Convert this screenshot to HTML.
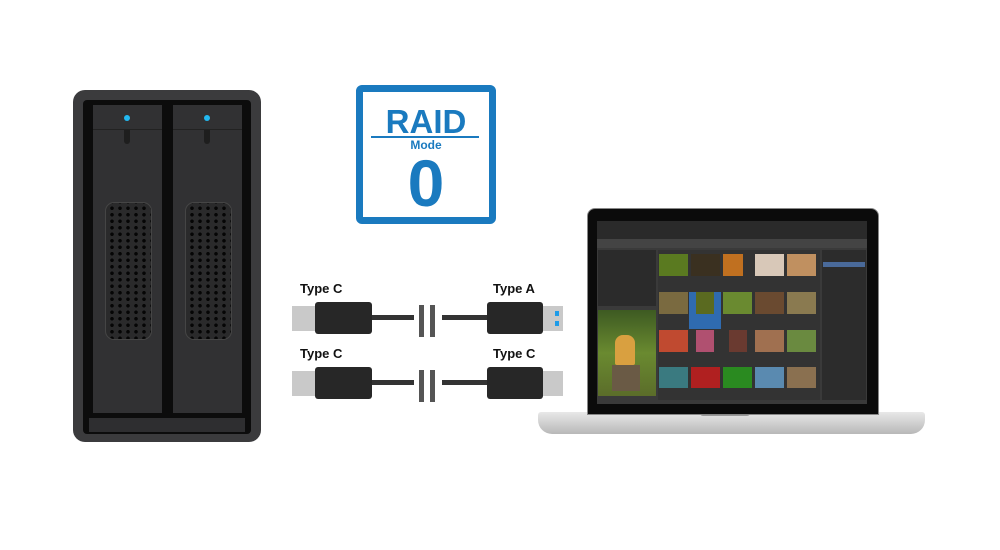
<!DOCTYPE html>
<html><head><meta charset="utf-8"><style>
body{margin:0;width:1000px;height:550px;background:#fff;position:relative;overflow:hidden;font-family:"Liberation Sans",Arial,sans-serif}
.a{position:absolute}
.lbl{position:absolute;font-weight:bold;font-size:13px;color:#111}
</style></head><body>

<!-- enclosure -->
<div class="a" style="left:73px;top:90px;width:188px;height:352px;background:#3b3b3d;border-radius:12px"></div>
<div class="a" style="left:83px;top:100px;width:168px;height:334px;background:#0c0c0c;border-radius:4px"></div>
<div class="a" style="left:89px;top:418px;width:156px;height:14px;background:#2e2e30"></div>
<div class="a" style="left:93px;top:105px;width:69px;height:308px;background:#313133"></div>
<div class="a" style="left:173px;top:105px;width:69px;height:308px;background:#313133"></div>
<div class="a" style="left:93px;top:129px;width:69px;height:1px;background:#222"></div>
<div class="a" style="left:173px;top:129px;width:69px;height:1px;background:#222"></div>
<div class="a" style="left:124px;top:115px;width:6px;height:6px;border-radius:3px;background:#22b8f0"></div>
<div class="a" style="left:204px;top:115px;width:6px;height:6px;border-radius:3px;background:#22b8f0"></div>
<div class="a" style="left:124px;top:130px;width:6px;height:14px;border-radius:0 0 3px 3px;background:#1e1e1e"></div>
<div class="a" style="left:204px;top:130px;width:6px;height:14px;border-radius:0 0 3px 3px;background:#1e1e1e"></div>
<div class="a" style="left:105px;top:202px;width:45px;height:136px;border-radius:9px;background:#2a2a2b;background-image:radial-gradient(circle,#050505 1.6px,transparent 2px);background-size:8px 6.5px;background-position:2px 2px;border:1px solid #454545"></div>
<div class="a" style="left:185px;top:202px;width:45px;height:136px;border-radius:9px;background:#2a2a2b;background-image:radial-gradient(circle,#050505 1.6px,transparent 2px);background-size:8px 6.5px;background-position:2px 2px;border:1px solid #454545"></div>

<!-- RAID -->
<div class="a" style="left:356px;top:85px;width:126px;height:125px;border:7px solid #1a7abf;border-radius:6px;background:#fff"></div>
<div class="a" style="left:356px;top:103px;width:140px;text-align:center;font-weight:bold;font-size:33px;color:#1a7abf">RAID</div>
<div class="a" style="left:371px;top:136px;width:108px;height:2px;background:#1a7abf"></div>
<div class="a" style="left:356px;top:138px;width:140px;text-align:center;font-weight:bold;font-size:12px;color:#1a7abf">Mode</div>
<div class="a" style="left:356px;top:147px;width:140px;text-align:center;font-weight:bold;font-size:66px;line-height:72px;color:#1a7abf">0</div>

<!-- cables -->
<div class="lbl" style="left:300px;top:281px">Type C</div>
<div class="lbl" style="left:493px;top:281px">Type A</div>
<div class="lbl" style="left:300px;top:346px">Type C</div>
<div class="lbl" style="left:493px;top:346px">Type C</div>

<div class="a" style="left:292px;top:306px;width:24px;height:25px;background:#c9c9c9"></div>
<div class="a" style="left:315px;top:302px;width:57px;height:32px;background:#272727;border-radius:3px"></div>
<div class="a" style="left:372px;top:315px;width:42px;height:5px;background:#333"></div>
<div class="a" style="left:419px;top:305px;width:5px;height:32px;background:#555"></div>
<div class="a" style="left:430px;top:305px;width:5px;height:32px;background:#555"></div>
<div class="a" style="left:442px;top:315px;width:46px;height:5px;background:#333"></div>
<div class="a" style="left:487px;top:302px;width:56px;height:32px;background:#272727;border-radius:3px"></div>
<div class="a" style="left:543px;top:306px;width:20px;height:25px;background:#c9c9c9"></div>
<div class="a" style="left:555px;top:311px;width:4px;height:5px;background:#1e9be8"></div>
<div class="a" style="left:555px;top:321px;width:4px;height:5px;background:#1e9be8"></div>

<div class="a" style="left:292px;top:371px;width:24px;height:25px;background:#c9c9c9"></div>
<div class="a" style="left:315px;top:367px;width:57px;height:32px;background:#272727;border-radius:3px"></div>
<div class="a" style="left:372px;top:380px;width:42px;height:5px;background:#333"></div>
<div class="a" style="left:419px;top:370px;width:5px;height:32px;background:#555"></div>
<div class="a" style="left:430px;top:370px;width:5px;height:32px;background:#555"></div>
<div class="a" style="left:442px;top:380px;width:46px;height:5px;background:#333"></div>
<div class="a" style="left:487px;top:367px;width:56px;height:32px;background:#272727;border-radius:3px"></div>
<div class="a" style="left:543px;top:371px;width:20px;height:25px;background:#c9c9c9"></div>

<!-- laptop -->
<div class="a" style="left:538px;top:412px;width:387px;height:22px;background:linear-gradient(#e8e8e8,#b8b8b8);border-radius:3px 3px 14px 14px"></div>
<div class="a" style="left:700px;top:413px;width:50px;height:3px;background:#999;border-radius:0 0 3px 3px"></div>
<div class="a" style="left:587px;top:208px;width:290px;height:205px;background:#0b0b0b;border-radius:8px 8px 0 0;border:1px solid #888"></div>
<div class="a" style="left:597px;top:221px;width:270px;height:183px;background:#3a3a3a"></div>
<div class="a" style="left:597px;top:221px;width:270px;height:18px;background:#2a2a2a"></div>
<div class="a" style="left:597px;top:239px;width:270px;height:9px;background:#444"></div>
<div class="a" style="left:598px;top:250px;width:58px;height:56px;background:#2b2b2b"></div>
<div class="a" style="left:598px;top:310px;width:58px;height:86px;background:linear-gradient(#3d5a22,#6a8a30 50%,#5b6d2a)"></div>
<div class="a" style="left:615px;top:335px;width:20px;height:30px;background:#d9a040;border-radius:8px 8px 2px 2px"></div>
<div class="a" style="left:612px;top:365px;width:28px;height:26px;background:#6a5a45"></div>
<div class="a" style="left:822px;top:250px;width:44px;height:150px;background:#2c2c2c"></div>
<div class="a" style="left:823px;top:262px;width:42px;height:5px;background:#4a6a9a"></div>
<div class="a" style="left:658px;top:250px;width:162px;height:150px;background:#333"></div>
<div class="a" style="left:689px;top:292px;width:32px;height:37px;background:#2f6bb0"></div>
<div class="a" style="left:659px;top:254px;width:29px;height:22px;background:#5a7a20"></div>
<div class="a" style="left:691px;top:254px;width:29px;height:22px;background:#3a3020"></div>
<div class="a" style="left:723px;top:254px;width:20px;height:22px;background:#c07020"></div>
<div class="a" style="left:755px;top:254px;width:29px;height:22px;background:#d8c8b8"></div>
<div class="a" style="left:787px;top:254px;width:29px;height:22px;background:#c09060"></div>
<div class="a" style="left:659px;top:292px;width:29px;height:22px;background:#7a6a40"></div>
<div class="a" style="left:696px;top:292px;width:18px;height:22px;background:#5a6a20"></div>
<div class="a" style="left:723px;top:292px;width:29px;height:22px;background:#6a8a30"></div>
<div class="a" style="left:755px;top:292px;width:29px;height:22px;background:#6a4a30"></div>
<div class="a" style="left:787px;top:292px;width:29px;height:22px;background:#8a7a50"></div>
<div class="a" style="left:659px;top:330px;width:29px;height:22px;background:#c04a30"></div>
<div class="a" style="left:696px;top:330px;width:18px;height:22px;background:#b05070"></div>
<div class="a" style="left:729px;top:330px;width:18px;height:22px;background:#6a3a30"></div>
<div class="a" style="left:755px;top:330px;width:29px;height:22px;background:#a07050"></div>
<div class="a" style="left:787px;top:330px;width:29px;height:22px;background:#6a8a40"></div>
<div class="a" style="left:659px;top:367px;width:29px;height:21px;background:#3a7a80"></div>
<div class="a" style="left:691px;top:367px;width:29px;height:21px;background:#b02020"></div>
<div class="a" style="left:723px;top:367px;width:29px;height:21px;background:#2a8a20"></div>
<div class="a" style="left:755px;top:367px;width:29px;height:21px;background:#5a8ab0"></div>
<div class="a" style="left:787px;top:367px;width:29px;height:21px;background:#8a7050"></div>
</body></html>
